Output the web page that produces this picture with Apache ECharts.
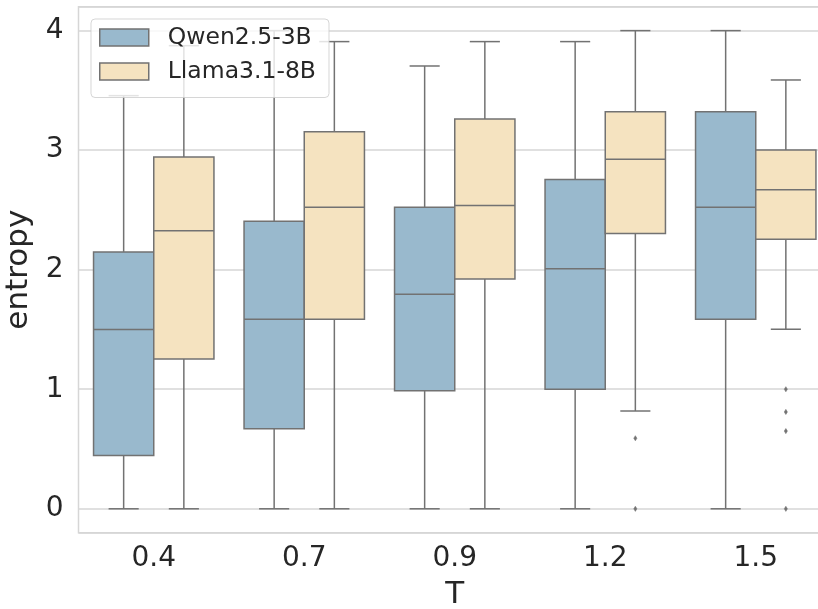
<!DOCTYPE html>
<html>
<head>
<meta charset="utf-8">
<script src="https://cdn.jsdelivr.net/npm/echarts@6/dist/echarts.min.js"></script>
<style>
html,body{margin:0;padding:0;background:#fff;}
#chart{width:818px;height:609px;}
</style>
</head>
<body>
<div id="chart"></div>
<script>
// ---- data ----
const categories = ['0.4', '0.7', '0.9', '1.2', '1.5'];
const seriesNames = ['Qwen2.5-3B', 'Llama3.1-8B'];

const qwenMin = [0, 0, 0, 0, 0];
const qwenQ1  = [0.446, 0.67, 0.988, 1.0, 1.585];
const qwenMed = [1.5, 1.585, 1.795, 2.007, 2.523];
const qwenQ3  = [2.149, 2.406, 2.523, 2.755, 3.322];
const qwenMax = [3.456, 4.0, 3.704, 3.908, 4.0];

const llamaMin = [0, 0, 0, 0.818, 1.502];
const llamaQ1  = [1.253, 1.585, 1.923, 2.303, 2.255];
const llamaMed = [2.325, 2.523, 2.538, 2.923, 2.668];
const llamaQ3  = [2.942, 3.154, 3.26, 3.322, 3.001];
const llamaMax = [3.874, 3.908, 3.908, 4.0, 3.587];

// outliers: [category index, value]
const qwenOutliers = [];
const llamaOutliers = [[3, 0.59], [3, 0], [4, 1.0], [4, 0.81], [4, 0.65], [4, 0]];

const yTicks = [0, 1, 2, 3, 4];

// ---- styling ----
const colors = ['#99b9cd', '#f5e3c0'];
const lineColor = '#727272';
const textColor = '#262626';
const gridColor = '#d6d6d6';
const FONT = 'DejaVu Sans';

function build(mins, q1s, meds, q3s, maxs) {
  return categories.map((c, i) => [i, mins[i], q1s[i], meds[i], q3s[i], maxs[i]]);
}

function boxSeries(name, data, color, side) {
  return {
    type: 'custom',
    name: name,
    itemStyle: { color: color, borderColor: lineColor },
    encode: { x: 0, y: [1, 2, 3, 4, 5] },
    data: data,
    z: 2,
    renderItem: function (params, api) {
      const idx = api.value(0);
      const bw = api.size([1, 0])[0];
      const cx = api.coord([idx, 0])[0] + side * bw * 0.2;
      const half = bw * 0.2;
      const cap = bw * 0.1;
      const y = k => api.coord([idx, api.value(k)])[1];
      const yMin = y(1), yQ1 = y(2), yMed = y(3), yQ3 = y(4), yMax = y(5);
      const ls = { stroke: lineColor, lineWidth: 1.5, fill: null };
      return {
        type: 'group',
        children: [
          { type: 'line', shape: { x1: cx, y1: yQ3, x2: cx, y2: yMax }, style: ls },
          { type: 'line', shape: { x1: cx, y1: yQ1, x2: cx, y2: yMin }, style: ls },
          { type: 'line', shape: { x1: cx - cap, y1: yMax, x2: cx + cap, y2: yMax }, style: ls },
          { type: 'line', shape: { x1: cx - cap, y1: yMin, x2: cx + cap, y2: yMin }, style: ls },
          { type: 'rect', shape: { x: cx - half, y: yQ3, width: 2 * half, height: yQ1 - yQ3 },
            style: { fill: color, stroke: lineColor, lineWidth: 1.5 } },
          { type: 'line', shape: { x1: cx - half, y1: yMed, x2: cx + half, y2: yMed }, style: ls }
        ]
      };
    }
  };
}

function outlierSeries(data, side) {
  return {
    type: 'custom',
    encode: { x: 0, y: 1 },
    data: data,
    z: 3,
    silent: true,
    renderItem: function (params, api) {
      const idx = api.value(0);
      const bw = api.size([1, 0])[0];
      const p = api.coord([idx, api.value(1)]);
      const cx = p[0] + side * bw * 0.2;
      const cy = p[1];
      return {
        type: 'polygon',
        shape: { points: [[cx, cy - 2.6], [cx + 1.6, cy], [cx, cy + 2.6], [cx - 1.6, cy]] },
        style: { fill: lineColor, stroke: lineColor, lineWidth: 0.5 }
      };
    }
  };
}

const chart = echarts.init(document.getElementById('chart'), null, { renderer: 'canvas' });
chart.setOption({
  animation: false,
  backgroundColor: '#ffffff',
  textStyle: { fontFamily: FONT, color: textColor },
  grid: {
    left: 78.5, top: 6.7, width: 752.5, height: 526,
    outerBoundsMode: 'none',
    containLabel: false,
    show: true, borderColor: gridColor, borderWidth: 1.5, backgroundColor: 'transparent'
  },
  legend: {
    orient: 'vertical',
    left: 91, top: 19,
    icon: 'rect',
    itemWidth: 49, itemHeight: 17, itemGap: 10,
    padding: [6.5, 13, 14, 8],
    backgroundColor: 'rgba(255,255,255,0.8)',
    borderColor: 'rgba(204,204,204,0.8)',
    borderWidth: 1,
    borderRadius: 4,
    textStyle: { fontFamily: FONT, fontSize: 23.5, color: textColor, lineHeight: 17, padding: [0, 0, 0, 14] },
    data: seriesNames.map((n, i) => ({
      name: n,
      itemStyle: { color: colors[i], borderColor: lineColor, borderWidth: 1.5 }
    })),
    z: 10
  },
  xAxis: {
    type: 'category',
    data: categories,
    boundaryGap: true,
    name: 'T',
    nameLocation: 'middle',
    nameGap: 47,
    nameTextStyle: { fontFamily: FONT, fontSize: 31, color: textColor },
    axisLine: { show: false },
    axisTick: { show: false },
    axisLabel: { fontFamily: FONT, fontSize: 28, color: textColor, margin: 12 },
    splitLine: { show: false }
  },
  yAxis: {
    type: 'value',
    min: -0.2, max: 4.2,
    minInterval: 1, maxInterval: 1,
    name: 'entropy',
    nameLocation: 'middle',
    nameGap: 38,
    nameRotate: 90,
    nameTextStyle: { fontFamily: FONT, fontSize: 31, color: textColor },
    axisLine: { show: false },
    axisTick: { show: false },
    axisLabel: {
      fontFamily: FONT, fontSize: 28, color: textColor, margin: 15,
      showMinLabel: false, showMaxLabel: false,
      formatter: v => (yTicks.indexOf(Math.round(v * 1000) / 1000) >= 0 ? String(Math.round(v)) : '')
    },
    splitLine: { show: true, lineStyle: { color: gridColor, width: 1.5 } }
  },
  series: [
    boxSeries(seriesNames[0], build(qwenMin, qwenQ1, qwenMed, qwenQ3, qwenMax), colors[0], -1),
    boxSeries(seriesNames[1], build(llamaMin, llamaQ1, llamaMed, llamaQ3, llamaMax), colors[1], 1),
    outlierSeries(qwenOutliers, -1),
    outlierSeries(llamaOutliers, 1)
  ]
});
</script>
</body>
</html>
